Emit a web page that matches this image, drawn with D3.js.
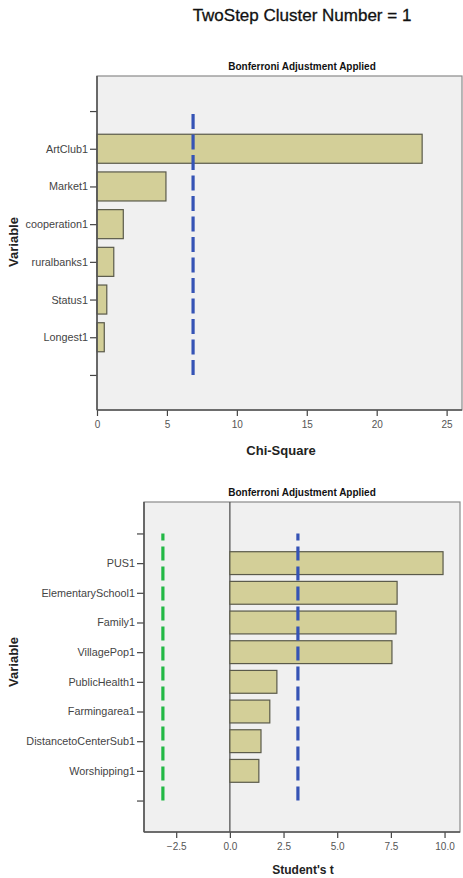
<!DOCTYPE html>
<html><head><meta charset="utf-8">
<script src="https://cdn.jsdelivr.net/npm/d3@7"></script>
<style>
body{margin:0;background:#fff;}
svg{display:block;font-family:"Liberation Sans",Arial,sans-serif;}
</style></head>
<body><svg id="c" width="463" height="878"></svg>
<script>
const topCategories = ["ArtClub1","Market1","cooperation1","ruralbanks1","Status1","Longest1"];
const topValues = [23.25, 4.93, 1.88, 1.2, 0.7, 0.52];
const topCritical = [6.87];
const topTicks = [0, 5, 10, 15, 20, 25];

const bottomCategories = ["PUS1","ElementarySchool1","Family1","VillagePop1","PublicHealth1","Farmingarea1","DistancetoCenterSub1","Worshipping1"];
const bottomValues = [9.93, 7.79, 7.74, 7.55, 2.19, 1.86, 1.45, 1.35];
const bottomCriticalLow = [-3.12];
const bottomCriticalHigh = [3.17];
const bottomTicks = [-2.5, 0, 2.5, 5, 7.5, 10];

const svg = d3.select("#c");

svg.append("text").attr("x", 302).attr("y", 21).attr("text-anchor", "middle")
  .attr("font-size", 17).attr("fill", "#111").attr("stroke", "#111").attr("stroke-width", 0.3)
  .text("TwoStep Cluster Number = 1");

function panel(cfg) {
  const g = svg.append("g");
  const x = d3.scaleLinear().domain(cfg.xDomain).range([cfg.left, cfg.right]);
  const dom = ["__t"].concat(cfg.cats).concat(["__b"]);
  const y = d3.scalePoint().domain(dom).range([cfg.top, cfg.bottom]).padding(cfg.pad);
  const step = y.step();

  g.append("text").attr("x", 302).attr("y", cfg.top - 6).attr("text-anchor", "middle")
    .attr("font-size", 10).attr("font-weight", "bold").attr("fill", "#111")
    .text("Bonferroni Adjustment Applied");

  g.append("rect").attr("x", cfg.left).attr("y", cfg.top)
    .attr("width", cfg.right - cfg.left).attr("height", cfg.bottom - cfg.top)
    .attr("fill", "#f0f0f0").attr("stroke", "#8a8a8a").attr("stroke-width", 1.2);

  if (cfg.zero) {
    g.append("line").attr("x1", x(0)).attr("x2", x(0)).attr("y1", cfg.top).attr("y2", cfg.bottom)
      .attr("stroke", "#555").attr("stroke-width", 1.3);
  }

  const bh = step * 0.77;
  g.selectAll("rect.bar").data(cfg.vals).enter().append("rect").attr("class", "bar")
    .attr("x", d => x(Math.min(0, d)))
    .attr("y", (d, i) => y(cfg.cats[i]) - bh / 2)
    .attr("width", d => Math.abs(x(d) - x(0)))
    .attr("height", bh)
    .attr("fill", "#d3cf98").attr("stroke", "#5a5a4a").attr("stroke-width", 1.2);

  cfg.lines.forEach(L => {
    g.append("line").attr("x1", x(L.v)).attr("x2", x(L.v))
      .attr("y1", y("__b")).attr("y2", y("__t"))
      .attr("stroke", L.c).attr("stroke-width", 3.2).attr("stroke-dasharray", L.dash);
  });

  const ya = d3.axisLeft(y).tickSize(7).tickPadding(2).tickFormat(d => d.startsWith("__") ? "" : d);
  const yg = g.append("g").attr("transform", `translate(${cfg.left},0)`).call(ya);
  yg.select(".domain").remove();
  yg.selectAll("line").attr("stroke", "#444").attr("stroke-width", 1.2);
  yg.selectAll("text").attr("font-size", 10.8).attr("fill", "#444").attr("font-family", "Liberation Sans, Arial, sans-serif");
  g.append("line").attr("x1", cfg.left).attr("x2", cfg.left).attr("y1", cfg.top).attr("y2", cfg.bottom)
    .attr("stroke", "#555").attr("stroke-width", 1.6);

  const xa = d3.axisBottom(x).tickValues(cfg.ticks).tickSize(6).tickPadding(5).tickFormat(cfg.fmt);
  const xg = g.append("g").attr("transform", `translate(0,${cfg.bottom})`).call(xa);
  xg.select(".domain").remove();
  xg.selectAll("line").attr("stroke", "#444").attr("stroke-width", 1.2);
  xg.selectAll("text").attr("font-size", 10).attr("fill", "#555").attr("font-family", "Liberation Sans, Arial, sans-serif");
  g.append("line").attr("x1", cfg.left).attr("x2", cfg.right).attr("y1", cfg.bottom).attr("y2", cfg.bottom)
    .attr("stroke", "#555").attr("stroke-width", 1.6);

  g.append("text").attr("x", cfg.xTitleX).attr("y", cfg.xTitleY).attr("text-anchor", "middle")
    .attr("font-size", cfg.xTitleSize).attr("font-weight", "bold").attr("fill", "#222").text(cfg.xTitle);
  g.append("text").attr("transform", `translate(18,${cfg.yTitleY}) rotate(-90)`).attr("text-anchor", "middle")
    .attr("font-size", 13).attr("font-weight", "bold").attr("fill", "#222").text("Variable");
}

panel({
  left: 97, right: 462, top: 76, bottom: 410, pad: 0.93,
  xDomain: [0, 26.1], cats: topCategories, vals: topValues, ticks: topTicks,
  fmt: d3.format("d"), zero: false,
  lines: [{v: topCritical[0], c: "#3553b5", dash: "15,5.5"}],
  xTitle: "Chi-Square", xTitleX: 281, xTitleY: 455, xTitleSize: 13, yTitleY: 242
});

panel({
  left: 144, right: 460, top: 502, bottom: 832, pad: 1.06,
  xDomain: [-4.0, 10.72], cats: bottomCategories, vals: bottomValues, ticks: bottomTicks,
  fmt: d3.format(".1f"), zero: true,
  lines: [{v: bottomCriticalLow[0], c: "#22b845", dash: "14,6"}, {v: bottomCriticalHigh[0], c: "#3553b5", dash: "14,6"}],
  xTitle: "Student's t", xTitleX: 303, xTitleY: 874, xTitleSize: 12, yTitleY: 662
});
</script></body></html>
